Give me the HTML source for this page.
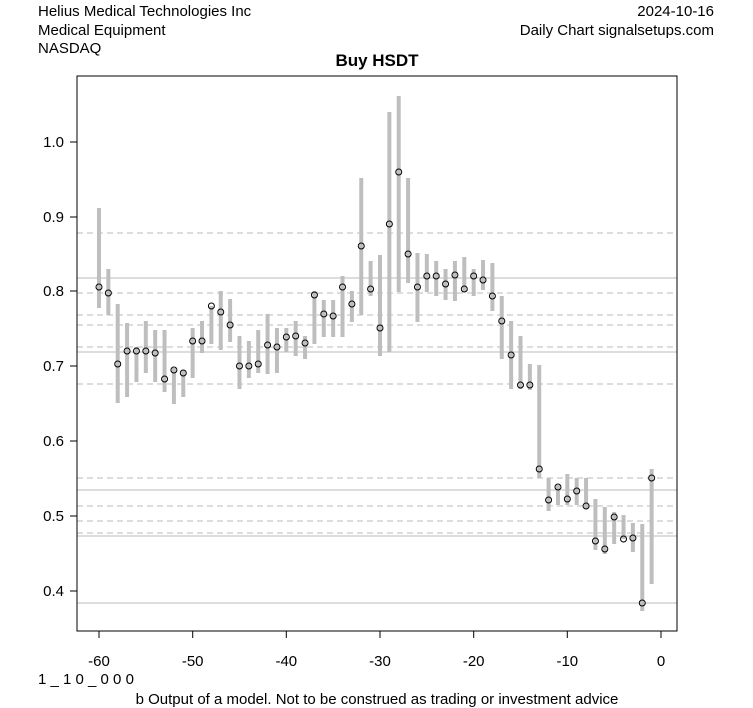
<!DOCTYPE html>
<html><head><meta charset="utf-8"><style>
html,body{margin:0;padding:0;background:#fff;}
svg{display:block;font-family:"Liberation Sans",Arial,sans-serif;}
</style></head><body>
<svg id="s" width="753" height="708" xmlns="http://www.w3.org/2000/svg">
<rect width="753" height="708" fill="#fff"/>
<text x="38" y="16" font-size="15">Helius Medical Technologies Inc</text>
<text x="38" y="35" font-size="15">Medical Equipment</text>
<text x="38" y="53" font-size="15">NASDAQ</text>
<text x="714" y="16" font-size="15" text-anchor="end">2024-10-16</text>
<text x="714" y="35" font-size="15" text-anchor="end">Daily Chart signalsetups.com</text>
<text x="377" y="66" font-size="17" font-weight="bold" text-anchor="middle">Buy HSDT</text>
<g id="hl"></g>
<g id="bars"></g>
<rect x="77" y="76" width="600" height="555" fill="none" stroke="#000" stroke-width="1"/>
<g stroke="#000" stroke-width="1">
<line x1="99" y1="631" x2="99" y2="638"/><line x1="192.7" y1="631" x2="192.7" y2="638"/><line x1="286.3" y1="631" x2="286.3" y2="638"/><line x1="380" y1="631" x2="380" y2="638"/><line x1="473.7" y1="631" x2="473.7" y2="638"/><line x1="567.3" y1="631" x2="567.3" y2="638"/><line x1="661" y1="631" x2="661" y2="638"/>
<line x1="70" y1="591" x2="77" y2="591"/><line x1="70" y1="516" x2="77" y2="516"/><line x1="70" y1="441" x2="77" y2="441"/><line x1="70" y1="366" x2="77" y2="366"/><line x1="70" y1="291" x2="77" y2="291"/><line x1="70" y1="217" x2="77" y2="217"/><line x1="70" y1="142" x2="77" y2="142"/>
</g>
<g font-size="15" text-anchor="middle">
<text x="99" y="666">-60</text><text x="192.7" y="666">-50</text><text x="286.3" y="666">-40</text><text x="380" y="666">-30</text><text x="473.7" y="666">-20</text><text x="567.3" y="666">-10</text><text x="661" y="666">0</text>
</g>
<g font-size="15" text-anchor="end">
<text x="64" y="596">0.4</text><text x="64" y="521">0.5</text><text x="64" y="446">0.6</text><text x="64" y="371">0.7</text><text x="64" y="296">0.8</text><text x="64" y="222">0.9</text><text x="64" y="147">1.0</text>
</g>
<text x="38" y="684" font-size="15">1 _ 1 0 _ 0 0 0</text>
<text x="377" y="704" font-size="15" text-anchor="middle">b Output of a model. Not to be construed as trading or investment advice</text>
</svg>
<script>
var ns="http://www.w3.org/2000/svg";
var hl=document.getElementById("hl"),bg=document.getElementById("bars");
function el(p,t,a){var e=document.createElementNS(ns,t);for(var k in a)e.setAttribute(k,a[k]);p.appendChild(e);return e;}
[278,352,490,536,603].forEach(function(y){el(hl,"line",{x1:77,x2:677,y1:y,y2:y,stroke:"#bbb","stroke-width":1});});
[233,293,315,325,347,384,478,506,521,533].forEach(function(y){el(hl,"line",{x1:77,x2:677,y1:y,y2:y,stroke:"#bbb","stroke-width":1,"stroke-dasharray":"6,4"});});
var d=[[208,308,287],[269,315,293],[304,403,364],[323,397,351],[347,382,351],[321,373,351],[330,382,353],[330,392,379],[368,404,370],[370,397,373],
[328,378,341],[321,353,341],[306,344,306],[291,350,312],[299,342,325],[336,389,366],[341,378,366],[330,373,364],[314,374,345],[328,373,347],
[328,352,337],[321,356,336],[336,359,343],[291,344,295],[300,337,314],[300,337,316],[276,337,287],[291,322,304],[178,315,246],[261,296,289],
[255,356,328],[112,352,224],[96,292,172],[178,283,254],[253,322,287],[254,292,276],[261,296,276],[269,300,284],[261,301,275],[257,292,289],
[269,296,276],[260,290,280],[263,311,296],[296,359,321],[321,389,355],[336,389,385],[364,390,385],[365,478,469],[478,511,500],[485,505,487],
[474,505,499],[478,505,491],[478,509,506],[499,550,541],[507,554,549],[512,544,517],[515,539,539],[523,552,538],[524,611,603],[469,584,478]];
d.forEach(function(r,i){var x=661+(i-60)*9.367;
el(bg,"line",{x1:x,x2:x,y1:r[0],y2:r[1],stroke:"#bebebe","stroke-width":4});});
d.forEach(function(r,i){var x=661+(i-60)*9.367;
el(bg,"circle",{cx:x,cy:r[2],r:3,fill:"none",stroke:"#000","stroke-width":1});});
</script>
</body></html>
